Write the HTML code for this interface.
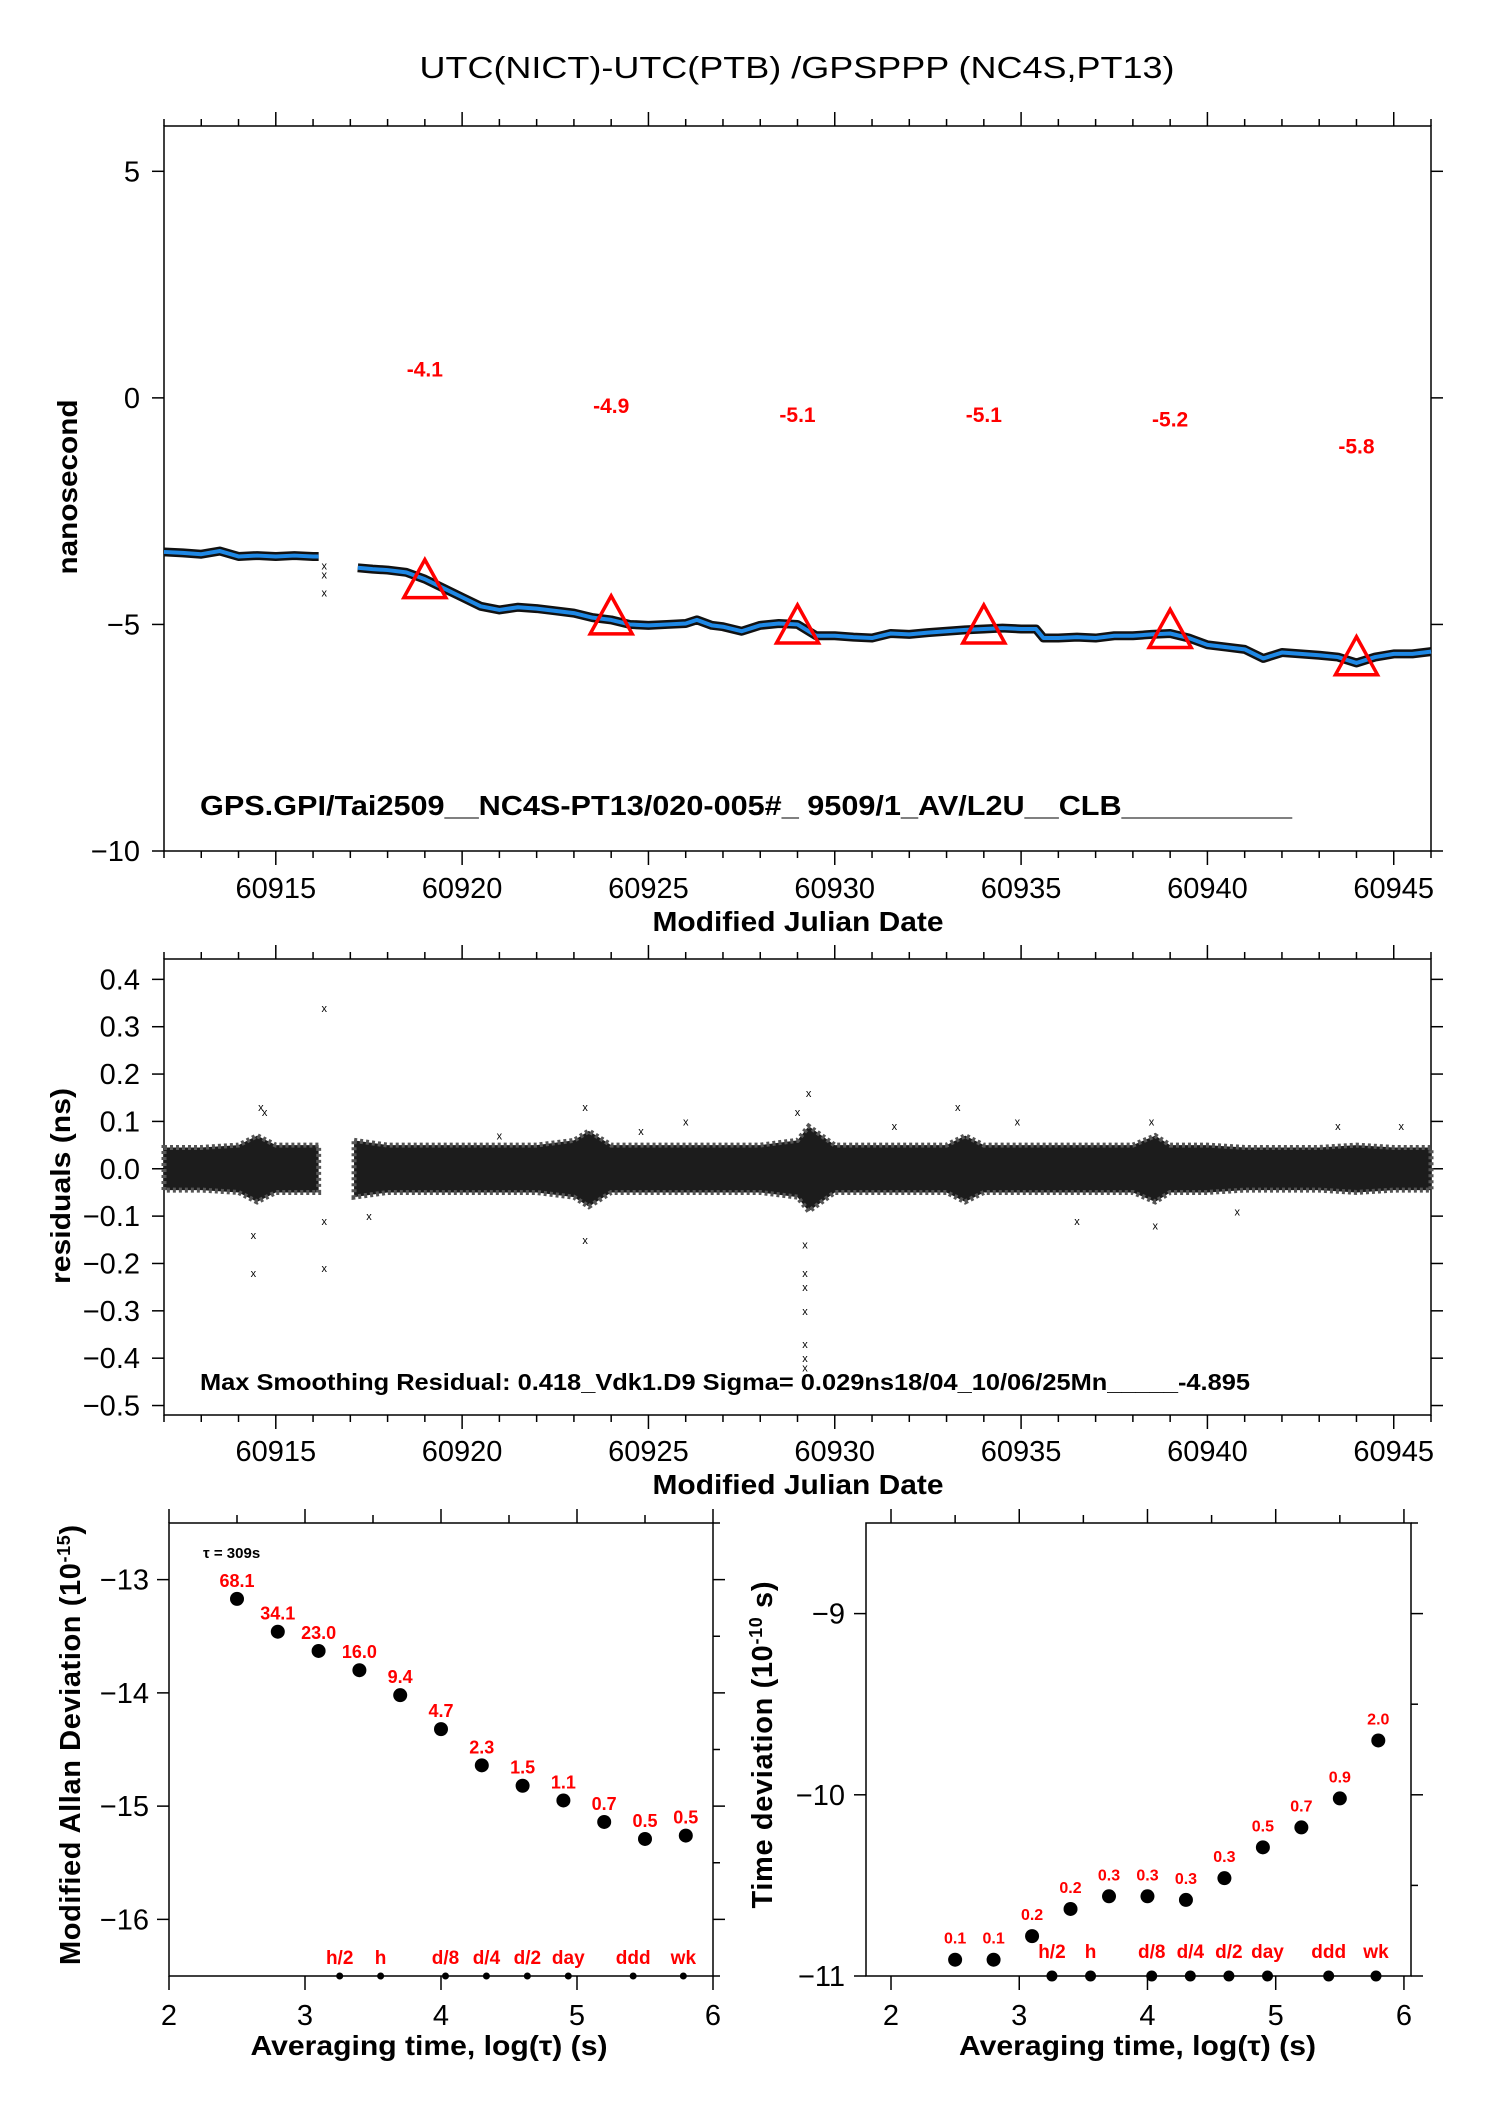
<!DOCTYPE html>
<html><head><meta charset="utf-8"><style>
html,body{margin:0;padding:0;background:#fff;}
svg{display:block;font-family:"Liberation Sans",sans-serif;}
</style></head><body>
<svg id="chart" width="1488" height="2105" viewBox="0 0 1488 2105" xmlns="http://www.w3.org/2000/svg">
<rect width="1488" height="2105" fill="#fff"/>
<text x="797" y="78" font-size="31" text-anchor="middle" textLength="755" lengthAdjust="spacingAndGlyphs">UTC(NICT)-UTC(PTB)  /GPSPPP  (NC4S,PT13)</text>
<g id="g"></g>
</svg>
<script>
// ---------- DATA ----------
const phaseMjd = [60912,60912.5,60913,60913.5,60914,60914.5,60915,60915.5,60916,60916.15,null,60917.2,60917.6,60918,60918.5,60919,60919.5,60920,60920.5,60921,60921.5,60922,60922.5,60923,60923.5,60924,60924.5,60925,60925.5,60926,60926.3,60926.7,60927,60927.5,60928,60928.5,60929,60929.5,60930,60930.5,60931,60931.5,60932,60932.5,60933,60933.5,60934,60934.5,60935,60935.4,60935.6,60936,60936.5,60937,60937.5,60938,60938.5,60939,60939.5,60940,60940.5,60941,60941.5,60942,60942.5,60943,60943.5,60944,60944.5,60945,60945.5,60946];
const phaseVal = [-3.4,-3.42,-3.45,-3.38,-3.5,-3.48,-3.5,-3.48,-3.5,-3.5,null,-3.75,-3.78,-3.8,-3.85,-4.0,-4.2,-4.4,-4.6,-4.68,-4.62,-4.65,-4.7,-4.75,-4.85,-4.9,-5.0,-5.02,-5.0,-4.98,-4.9,-5.02,-5.05,-5.15,-5.02,-4.98,-5.0,-5.25,-5.25,-5.28,-5.3,-5.2,-5.22,-5.18,-5.15,-5.12,-5.1,-5.08,-5.1,-5.1,-5.3,-5.3,-5.28,-5.3,-5.25,-5.25,-5.22,-5.2,-5.3,-5.45,-5.5,-5.55,-5.75,-5.62,-5.65,-5.68,-5.72,-5.85,-5.72,-5.65,-5.65,-5.6];
const triMjd = [60919,60924,60929,60934,60939,60944];
const triVal = [-4.1,-4.9,-5.1,-5.1,-5.2,-5.8];
const triLabels = ["-4.1","-4.9","-5.1","-5.1","-5.2","-5.8"];
const gapMjd = [60916.3,60916.3,60916.3];
const gapVal = [-3.7,-3.9,-4.3];
const mjdTicks = [60915,60920,60925,60930,60935,60940,60945];
const phaseTicks = [5,0,-5,-10];
const resTicks = [0.4,0.3,0.2,0.1,0.0,-0.1,-0.2,-0.3,-0.4,-0.5];
const resTickLabels = ["0.4","0.3","0.2","0.1","0.0","\u22120.1","\u22120.2","\u22120.3","\u22120.4","\u22120.5"];
const bandMjd = [60912,60913,60914,60914.5,60915,60916,60916.15,null,60917.1,60918,60919,60920,60921,60922,60923,60923.4,60924,60925,60926,60927,60928,60929,60929.3,60930,60931,60932,60933,60933.5,60934,60935,60936,60937,60938,60938.6,60939,60940,60941,60942,60943,60944,60945,60946];
const bandHalf = [0.045,0.045,0.05,0.07,0.05,0.05,0.05,null,0.06,0.05,0.05,0.05,0.05,0.05,0.06,0.08,0.05,0.05,0.05,0.05,0.05,0.06,0.09,0.05,0.05,0.05,0.05,0.07,0.05,0.05,0.05,0.05,0.05,0.07,0.05,0.05,0.045,0.045,0.045,0.05,0.045,0.045];
const outMjd = [60914.4,60914.4,60914.6,60914.7,60916.3,60916.3,60916.3,60923.3,60923.3,60929.2,60929.2,60929.2,60929.2,60929.2,60929.2,60929.2,60929.3,60926,60933.3,60934.9,60938.5,60938.6,60943.5,60945.2,60921,60929,60936.5,60917.5,60924.8,60931.6,60940.8];
const outVal = [-0.14,-0.22,0.13,0.12,0.34,-0.11,-0.21,0.13,-0.15,-0.16,-0.22,-0.25,-0.3,-0.37,-0.4,-0.42,0.16,0.1,0.13,0.1,0.1,-0.12,0.09,0.09,0.07,0.12,-0.11,-0.1,0.08,0.09,-0.09];
const logTau = [2.5,2.8,3.1,3.4,3.7,4.0,4.3,4.6,4.9,5.2,5.5,5.8];
const adev = [-13.17,-13.46,-13.63,-13.8,-14.02,-14.32,-14.64,-14.82,-14.95,-15.14,-15.29,-15.26];
const adevLabels = ["68.1","34.1","23.0","16.0","9.4","4.7","2.3","1.5","1.1","0.7","0.5","0.5"];
const tdev = [-10.91,-10.91,-10.78,-10.63,-10.56,-10.56,-10.58,-10.46,-10.29,-10.18,-10.02,-9.70];
const tdevLabels = ["0.1","0.1","0.2","0.2","0.3","0.3","0.3","0.3","0.5","0.7","0.9","2.0"];
const markTau = [3.255,3.556,4.033,4.334,4.635,4.936,5.413,5.782];
const markLabels = ["h/2","h","d/8","d/4","d/2","day","ddd","wk"];
const adevTicks = [-13,-14,-15,-16];
const tdevTicks = [-9,-10,-11];
const tauTicks = [2,3,4,5,6];

// ---------- HELPERS ----------
const NS="http://www.w3.org/2000/svg";
const G=document.getElementById('g');
function el(tag,attrs,parent,txt){const e=document.createElementNS(NS,tag);for(const k in attrs)e.setAttribute(k,attrs[k]);if(txt!==undefined)e.textContent=txt;(parent||G).appendChild(e);return e;}
function scale(d0,d1,r0,r1){return v=>r0+(v-d0)/(d1-d0)*(r1-r0);}
function line(x1,y1,x2,y2,p,w){return el('line',{x1,y1,x2,y2,stroke:'#000','stroke-width':w||1.5},p);}

// ---------- PANEL 1 ----------
(function(){
const L=164,R=1431,T=126,B=851;
const x=scale(60912,60946,L,R), y=scale(-10,6,B,T);
const p=el('g',{});


el('rect',{x:L,y:T,width:R-L,height:B-T,fill:'none',stroke:'#000','stroke-width':1.5},p);
for(let d=60912;d<=60946;d++){const big=(d%5===0);const xx=x(d);line(xx,T,xx,T-(big?14:7),p);line(xx,B,xx,B+(big?14:7),p);}
mjdTicks.forEach(t=>{const tx=el('text',{x:x(t),y:898,'font-size':29,'text-anchor':'middle'},p,String(t));});
phaseTicks.forEach(t=>{line(L,y(t),L-12,y(t),p);line(R,y(t),R+12,y(t),p);const tx=el('text',{x:140,y:y(t)+10,'font-size':29,'text-anchor':'end'},p,t<0?'\u2212'+(-t):String(t));});
let xt=el('text',{x:798,y:931,'font-size':28,'font-weight':'bold','text-anchor':'middle',textLength:291,lengthAdjust:'spacingAndGlyphs'},p,'Modified Julian Date');

let yt=el('text',{x:0,y:0,'font-size':28,'font-weight':'bold','text-anchor':'middle',transform:'translate(77,487) rotate(-90)',textLength:175,lengthAdjust:'spacingAndGlyphs'},p,'nanosecond');

let segs=[[]];phaseMjd.forEach((m,i)=>{if(m===null)segs.push([]);else segs[segs.length-1].push(x(m)+','+y(phaseVal[i]));});
segs.forEach(s=>{const a=el('polyline',{points:s.join(' '),fill:'none',stroke:'#111','stroke-width':9,'stroke-linejoin':'round'},p);
const b=el('polyline',{points:s.join(' '),fill:'none',stroke:'#1e88e5','stroke-width':4,'stroke-linejoin':'round'},p);});
gapMjd.forEach((m,i)=>{const t=el('text',{x:x(m),y:y(gapVal[i])+4,'font-size':11,'text-anchor':'middle'},p,'x');});
triMjd.forEach((m,i)=>{const cx=x(m),cy=y(triVal[i]);
const tr=el('polygon',{points:`${cx},${cy-24} ${cx-21},${cy+14} ${cx+21},${cy+14}`,fill:'none',stroke:'#f00','stroke-width':3.5},p);

const lb=el('text',{x:cx,y:cy-207,'font-size':21,'font-weight':'bold',fill:'#f00','text-anchor':'middle'},p,triLabels[i]);
});
let info=el('text',{x:200,y:815,'font-size':28,'font-weight':'bold',textLength:1092,lengthAdjust:'spacingAndGlyphs'},p,'GPS.GPI/Tai2509__NC4S-PT13/020-005#_  9509/1_AV/L2U__CLB__________');

})();

// ---------- PANEL 2 ----------
(function(){
const L=164,R=1431,T=959,B=1415;
const x=scale(60912,60946,L,R), y=scale(-0.52,0.443,B,T);
const p=el('g',{});


el('rect',{x:L,y:T,width:R-L,height:B-T,fill:'none',stroke:'#000','stroke-width':1.5},p);
for(let d=60912;d<=60946;d++){const big=(d%5===0);const xx=x(d);line(xx,T,xx,T-(big?14:7),p);line(xx,B,xx,B+(big?14:7),p);}
mjdTicks.forEach(t=>{const tx=el('text',{x:x(t),y:1461,'font-size':29,'text-anchor':'middle'},p,String(t));});
resTicks.forEach((t,i)=>{line(L,y(t),L-12,y(t),p);line(R,y(t),R+12,y(t),p);const tx=el('text',{x:140,y:y(t)+10,'font-size':29,'text-anchor':'end'},p,resTickLabels[i]);});
let xt=el('text',{x:798,y:1494,'font-size':28,'font-weight':'bold','text-anchor':'middle',textLength:291,lengthAdjust:'spacingAndGlyphs'},p,'Modified Julian Date');

let yt=el('text',{x:0,y:0,'font-size':28,'font-weight':'bold','text-anchor':'middle',transform:'translate(70,1186) rotate(-90)',textLength:196,lengthAdjust:'spacingAndGlyphs'},p,'residuals (ns)');

let segs=[[]];bandMjd.forEach((m,i)=>{if(m===null)segs.push([]);else segs[segs.length-1].push([m,bandHalf[i]]);});
segs.forEach(s=>{const up=s.map(a=>x(a[0])+','+y(a[1])),dn=s.slice().reverse().map(a=>x(a[0])+','+y(-a[1]));
const b=el('polygon',{points:up.concat(dn).join(' '),fill:'#1c1c1c',stroke:'#555','stroke-width':5,'stroke-dasharray':'3 3'},p);});
outMjd.forEach((m,i)=>{const t=el('text',{x:x(m),y:y(outVal[i])+4,'font-size':11,'text-anchor':'middle'},p,'x');});
let info=el('text',{x:200,y:1390,'font-size':23,'font-weight':'bold',textLength:1050,lengthAdjust:'spacingAndGlyphs'},p,'Max Smoothing Residual: 0.418_Vdk1.D9  Sigma= 0.029ns18/04_10/06/25Mn_____-4.895');

})();

// ---------- PANELS 3 & 4 ----------
function stabPanel(o){
const p=el('g',{});


const {L,R,T,B}=o;const x=scale(o.x0,o.x1,L,R),y=scale(o.y0,o.y1,B,T);
el('rect',{x:L,y:T,width:R-L,height:B-T,fill:'none',stroke:'#000','stroke-width':1.5},p);
for(let v=2;v<=6.001;v+=0.5){const big=Math.abs(v-Math.round(v))<0.01;line(x(v),T,x(v),T-(big?14:8),p);if(big)line(x(v),B,x(v),B+14,p);}
tauTicks.forEach(t=>{const tx=el('text',{x:x(t),y:2025,'font-size':29,'text-anchor':'middle'},p,String(t));});
for(let v=o.y0;v<=o.y1+0.001;v+=0.5){const big=Math.abs(v-Math.round(v))<0.01;if(big)line(L,y(v),L-12,y(v),p);line(R,y(v),R+(big?12:7),y(v),p);}
o.ticks.forEach(t=>{const tx=el('text',{x:o.tlx,y:y(t)+10,'font-size':29,'text-anchor':'end'},p,'\u2212'+(-t));});
let xt=el('text',{x:(L+R)/2+o.xtOff,y:2055,'font-size':28,'font-weight':'bold','text-anchor':'middle',textLength:357,lengthAdjust:'spacingAndGlyphs'},p,'Averaging time, log(\u03c4) (s)');

let yt=el('text',{x:0,y:0,'font-size':29,'font-weight':'bold','text-anchor':'middle',transform:`translate(${o.ytx},${o.yty}) rotate(-90)`,textLength:o.ytl,lengthAdjust:'spacing'},p);

yt.appendChild(document.createTextNode(o.ytitle));
el('tspan',{'font-size':18,dy:-10},yt,o.sup);
el('tspan',{dy:10},yt,o.ytail);
o.vals.forEach((v,i)=>{const c=el('circle',{cx:x(logTau[i]),cy:y(v),r:7,fill:'#000'},p);
const t=el('text',{x:x(logTau[i]),y:y(v)-o.lo,'font-size':o.lfs,'font-weight':'bold',fill:'#f00','text-anchor':'middle'},p,o.labels[i]);});
markTau.forEach((m,i)=>{const c=el('circle',{cx:x(m),cy:B,r:o.mr,fill:'#000'},p);
const t=el('text',{x:x(m),y:o.mly,'font-size':19,'font-weight':'bold',fill:'#f00','text-anchor':'middle'},p,markLabels[i]);});
return p;}
const p3=stabPanel({name:'mdev-panel',L:169,R:713,T:1523,B:1976,x0:2,x1:6,y0:-16.5,y1:-12.5,ticks:adevTicks,tlx:149,vals:adev,labels:adevLabels,lo:12,lfs:18,mr:3.5,mly:1964,ytx:80,yty:1745,ytl:440,ytitle:'Modified Allan Deviation (10',sup:'-15',ytail:')',xtOff:-12});
let tau=el('text',{x:203,y:1558,'font-size':15,'font-weight':'bold'},p3,'\u03c4 = 309s');

stabPanel({name:'tdev-panel',L:866,R:1411,T:1523,B:1976,x0:1.805,x1:6.055,y0:-11,y1:-8.5,ticks:tdevTicks,tlx:845,vals:tdev,labels:tdevLabels,lo:16,lfs:16,mr:5.5,mly:1958,ytx:772,yty:1745,ytl:327,ytitle:'Time deviation (10',sup:'-10',ytail:' s)',xtOff:-1});
</script>
</body></html>
